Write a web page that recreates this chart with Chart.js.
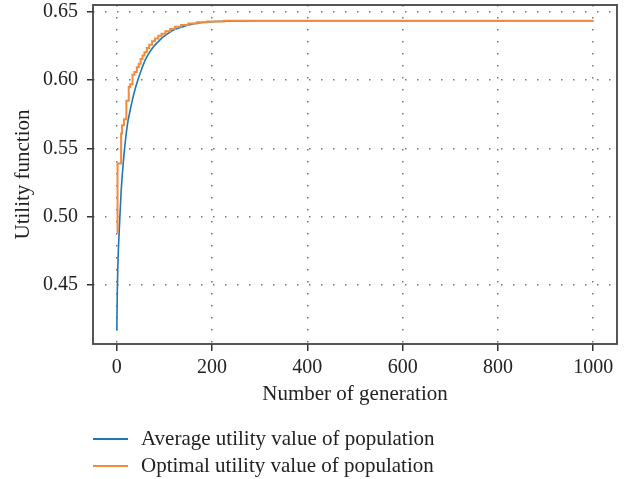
<!DOCTYPE html>
<html>
<head>
<meta charset="utf-8">
<script src="https://cdn.jsdelivr.net/npm/chart.js@4"></script>
<style>
  body { margin: 0; background: #fff; }
  #wrap { position: relative; width: 630px; height: 479px; }
  #legend { position: absolute; left: 93px; top: 425px; font: 21px "Liberation Serif", serif; color: #222; }
  .item { height: 27px; display: flex; align-items: center; white-space: nowrap; }
  .swatch { width: 35px; height: 2px; margin-right: 13px; }
</style>
</head>
<body>
<div id="wrap">
  <canvas id="utilityChart"></canvas>
  <div id="legend"></div>
</div>
<script>
// 세대별 효용값
const averageGen = [0, 1, 2, 3.5, 6, 9, 12, 16, 22, 28, 33, 38, 44, 52, 60, 68, 77, 88, 98, 109, 119, 137, 155, 175, 200, 240, 300, 1000];
const averageValue = [0.417, 0.445, 0.462, 0.478, 0.497, 0.518, 0.533, 0.549, 0.567, 0.578, 0.586, 0.593, 0.600, 0.608, 0.615, 0.620, 0.6245, 0.6285, 0.6318, 0.6345, 0.6367, 0.639, 0.6408, 0.642, 0.6428, 0.6433, 0.6435, 0.6435];

const optimalGen = [0, 1.5, 9, 11, 15, 20, 25, 28, 33, 37, 42, 46, 50, 54, 58, 63, 68, 74, 80, 87, 94, 102, 112, 122, 135, 150, 168, 190, 225, 1000];
const optimalValue = [0.489, 0.539, 0.561, 0.567, 0.5715, 0.585, 0.595, 0.597, 0.604, 0.606, 0.6095, 0.612, 0.6155, 0.618, 0.6205, 0.6235, 0.626, 0.6285, 0.6305, 0.6325, 0.634, 0.6358, 0.6375, 0.639, 0.6403, 0.6415, 0.6424, 0.643, 0.6434, 0.6435];

const xTicks = [0, 200, 400, 600, 800, 1000];
const yTicks = [0.45, 0.50, 0.55, 0.60, 0.65];

const seriesLabels = ['Average utility value of population', 'Optimal utility value of population'];
const seriesColors = ['#1f77b4', '#f28b3c'];

const FONT = { family: '"Liberation Serif", serif', size: 20 };
const TITLE_FONT = { family: '"Liberation Serif", serif', size: 21 };

// 그래프 테두리
const framePlugin = {
    id: 'frame',
    afterDatasetsDraw(chart) {
        const { ctx, chartArea: a } = chart;
        ctx.save();
        ctx.strokeStyle = '#444';
        ctx.lineWidth = 1.8;
        ctx.strokeRect(a.left, a.top, a.right - a.left, a.bottom - a.top);
        ctx.restore();
    }
};

const ctx = document.getElementById('utilityChart').getContext('2d');
const chart = new Chart(ctx, {
    type: 'line',
    data: {
        datasets: [
            {
                label: seriesLabels[0],
                data: averageGen.map((g, i) => ({ x: g, y: averageValue[i] })),
                borderColor: seriesColors[0],
                borderWidth: 1.6,
                pointRadius: 0,
                cubicInterpolationMode: 'monotone',
                order: 2
            },
            {
                label: seriesLabels[1],
                data: optimalGen.map((g, i) => ({ x: g, y: optimalValue[i] })),
                borderColor: seriesColors[1],
                borderWidth: 2,
                pointRadius: 0,
                stepped: true,
                order: 1
            }
        ]
    },
    options: {
        responsive: true,
        maintainAspectRatio: false,
        animation: false,
        layout: { padding: { top: 5, right: 13, bottom: 65, left: 0 } },
        plugins: {
            legend: { display: false },
            tooltip: { enabled: false }
        },
        scales: {
            x: {
                type: 'linear',
                min: -50,
                max: 1050,
                afterBuildTicks: axis => { axis.ticks = xTicks.map(v => ({ value: v })); },
                afterFit: s => { s.height = 70; s.paddingLeft = 0; s.paddingRight = 0; },
                ticks: { font: FONT, color: '#222', padding: 5, maxRotation: 0, callback: v => String(v) },
                grid: { color: '#777', lineWidth: 1.5, tickLength: 7, tickColor: '#333', tickWidth: 1.5, borderDash: [1.5, 10.5] },
                border: { display: false, dash: [1.5, 10.5] },
                title: { display: true, text: 'Number of generation', font: TITLE_FONT, color: '#222', padding: { top: 0, bottom: 7 } }
            },
            y: {
                min: 0.407,
                max: 0.655,
                afterBuildTicks: axis => { axis.ticks = yTicks.map(v => ({ value: v })); },
                afterFit: s => { s.width = 93; s.paddingTop = 0; s.paddingBottom = 0; },
                ticks: { font: FONT, color: '#222', padding: 9, callback: v => v.toFixed(2) },
                grid: { color: '#777', lineWidth: 1.5, tickLength: 6, tickColor: '#333', tickWidth: 1.5, borderDash: [1.5, 10.5] },
                border: { display: false, dash: [1.5, 10.5] },
                title: { display: true, text: 'Utility function', font: TITLE_FONT, color: '#222', padding: { top: 11, bottom: 0 } }
            }
        }
    },
    plugins: [framePlugin]
});

// 범례
const legendEl = document.getElementById('legend');
chart.data.datasets.forEach(ds => {
    const item = document.createElement('div');
    item.className = 'item';
    const sw = document.createElement('span');
    sw.className = 'swatch';
    sw.style.background = ds.borderColor;
    const txt = document.createElement('span');
    txt.textContent = ds.label;
    item.appendChild(sw);
    item.appendChild(txt);
    legendEl.appendChild(item);
});
</script>
</body>
</html>
